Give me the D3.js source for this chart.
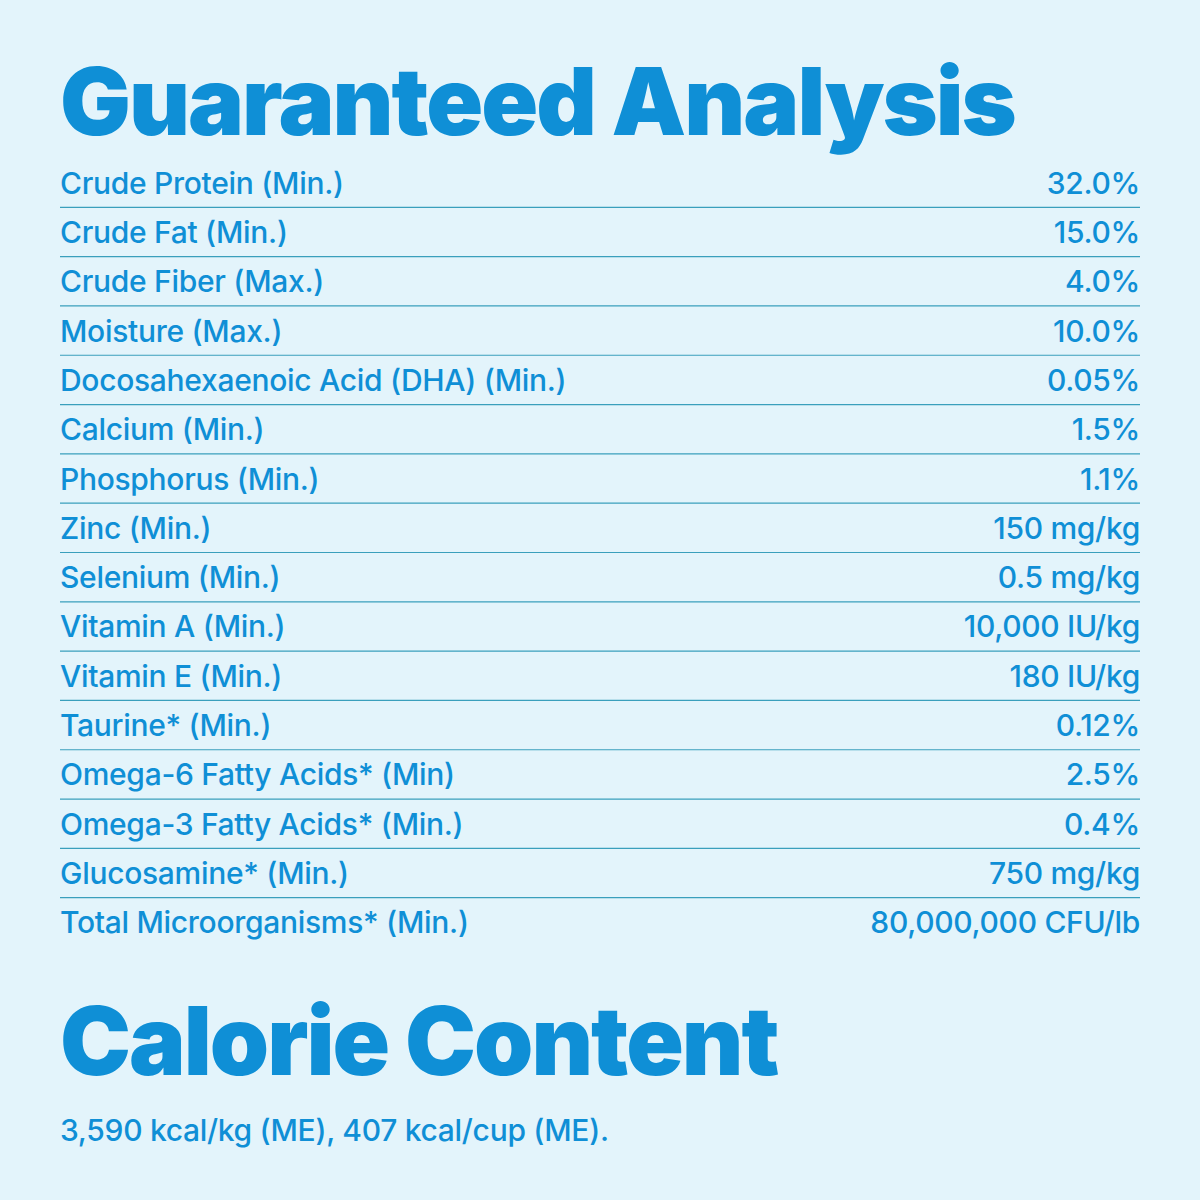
<!DOCTYPE html>
<html><head><meta charset="utf-8">
<script src="https://cdn.jsdelivr.net/npm/d3@7"></script>
<style>body{margin:0;background:#e3f4fb}</style>
</head><body><div id="canvas"></div>
<script>
const nutrients = ["Crude Protein (Min.)","Crude Fat (Min.)","Crude Fiber (Max.)","Moisture (Max.)",
  "Docosahexaenoic Acid (DHA) (Min.)","Calcium (Min.)","Phosphorus (Min.)","Zinc (Min.)",
  "Selenium (Min.)","Vitamin A (Min.)","Vitamin E (Min.)","Taurine* (Min.)",
  "Omega-6 Fatty Acids* (Min)","Omega-3 Fatty Acids* (Min.)","Glucosamine* (Min.)",
  "Total Microorganisms* (Min.)"];
const amounts = ["32.0%","15.0%","4.0%","10.0%","0.05%","1.5%","1.1%","150 mg/kg","0.5 mg/kg",
  "10,000 IU/kg","180 IU/kg","0.12%","2.5%","0.4%","750 mg/kg","80,000,000 CFU/lb"];
const calorieText = "3,590 kcal/kg (ME), 407 kcal/cup (ME).";

const blue = "#0f8fd6";
const W = 1200, H = 1200, left = 60, right = 1140;

const svg = d3.select("#canvas").append("svg").attr("width", W).attr("height", H);
svg.append("rect").attr("width", W).attr("height", H).attr("fill", "#e3f4fb");

const font = "Inter, 'Open Sans', sans-serif";

svg.append("text").attr("x", 60).attr("y", 135)
  .style("font-family", font).style("font-weight", 900).style("font-size", "94px")
  .style("letter-spacing", "-2px").attr("fill", blue).text("Guaranteed Analysis");

const y = d3.scaleBand().domain(d3.range(nutrients.length)).range([158, 947]);

const rows = svg.selectAll(".row").data(nutrients).join("g").attr("class", "row")
  .attr("transform", (d, i) => "translate(0," + y(i) + ")");

rows.append("text").attr("x", left).attr("y", y.bandwidth() / 2 + 11)
  .style("font-family", font).style("font-size", "30px").style("font-weight", 500)
  .style("letter-spacing", "-0.3px").attr("fill", blue)
  .text(d => d);

rows.append("text").attr("x", right).attr("y", y.bandwidth() / 2 + 11)
  .attr("text-anchor", "end")
  .style("font-family", font).style("font-size", "30px").style("font-weight", 500)
  .style("letter-spacing", "-0.3px").attr("fill", blue)
  .text((d, i) => amounts[i]);

rows.filter((d, i) => i < nutrients.length - 1).append("line")
  .attr("x1", left).attr("x2", right)
  .attr("y1", y.bandwidth()).attr("y2", y.bandwidth())
  .attr("stroke", "#3a9fbc").attr("stroke-width", 1.2);

svg.append("text").attr("x", 60).attr("y", 1075)
  .style("font-family", font).style("font-weight", 900).style("font-size", "95px")
  .style("letter-spacing", "-2px").attr("fill", blue).text("Calorie Content");

svg.append("text").attr("x", left).attr("y", 1141)
  .style("font-family", font).style("font-size", "30px").style("font-weight", 500)
  .style("letter-spacing", "-0.3px").attr("fill", blue)
  .text(calorieText);
</script></body></html>
